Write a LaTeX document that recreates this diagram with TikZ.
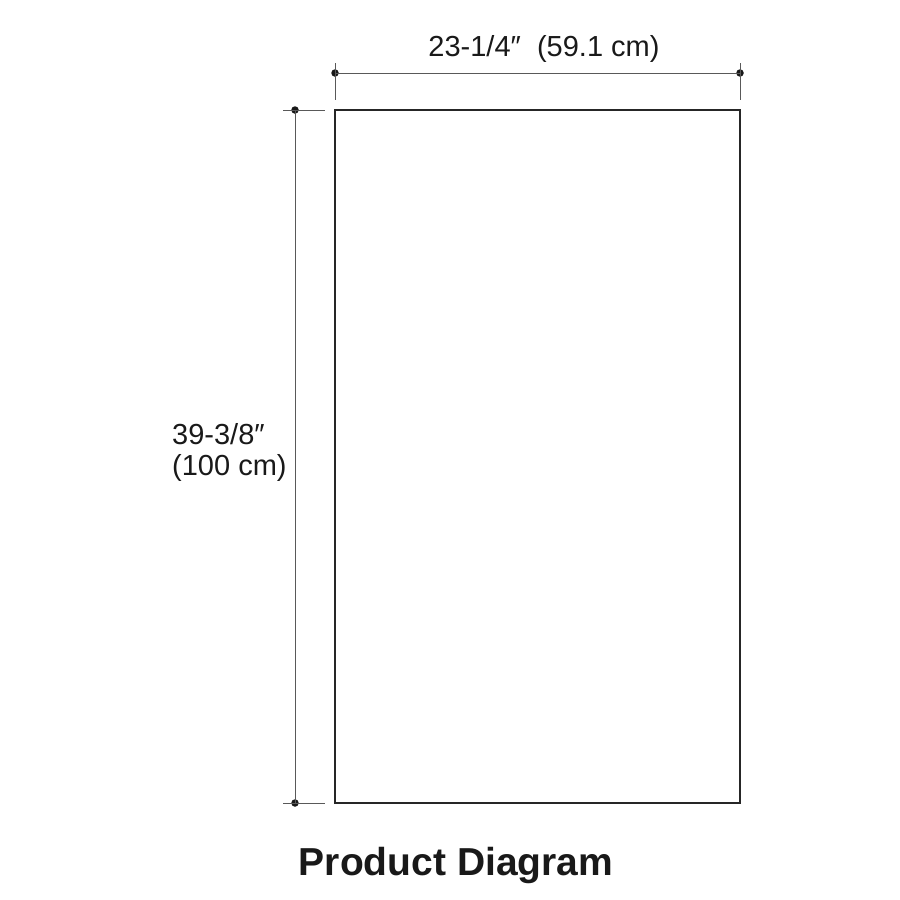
\documentclass[tikz,border=0pt]{standalone}
\usepackage{fontspec}
\setmainfont{Liberation Sans}
\usepackage{tikz}
\usetikzlibrary{positioning}

\begin{document}
\begin{tikzpicture}[
    x=1pt, y=-1pt,
    panel/.style={draw=black!85, line width=1.4pt, minimum width=405pt, minimum height=693pt, inner sep=0pt},
    dimline/.style={draw=black!65, line width=1pt},
    dimdot/.style={circle, fill=black!90, inner sep=0pt, minimum size=7.5pt},
    dimlabel/.style={font=\fontsize{29}{31}\selectfont, text=black!90, inner sep=0pt, align=left},
    caption/.style={font=\fontsize{39}{44}\selectfont\bfseries, text=black!90, inner sep=0pt}
]
\useasboundingbox (0,0) rectangle (900,900);

% Panel outline
\node[panel] (panel) at (537.5,456.5) {};

% Width dimension
\node[dimdot] (wl) at (335,73) {};
\node[dimdot] (wr) at (740,73) {};
\coordinate (wlt) at (335,63);
\coordinate (wlb) at (335,100);
\coordinate (wrt) at (740,63);
\coordinate (wrb) at (740,100);
\draw[dimline] (wl.center) -- (wr.center);
\draw[dimline] (wlt) -- (wlb);
\draw[dimline] (wrt) -- (wrb);
\node[dimlabel] (wlabel) at (544,48.5) {23-1/4″\ \ (59.1 cm)};

% Height dimension
\node[dimdot] (ht) at (295,110) {};
\node[dimdot] (hb) at (295,803) {};
\coordinate (htl) at (283,110);
\coordinate (htr) at (325,110);
\coordinate (hbl) at (283,803);
\coordinate (hbr) at (325,803);
\draw[dimline] (ht.center) -- (hb.center);
\draw[dimline] (htl) -- (htr);
\draw[dimline] (hbl) -- (hbr);
\node[dimlabel, anchor=west] (hlabel) at (172,452) {39-3/8″\\(100 cm)};

% Caption
\node[caption] (title) at (456,865) {Product Diagram};

\end{tikzpicture}
\end{document}
